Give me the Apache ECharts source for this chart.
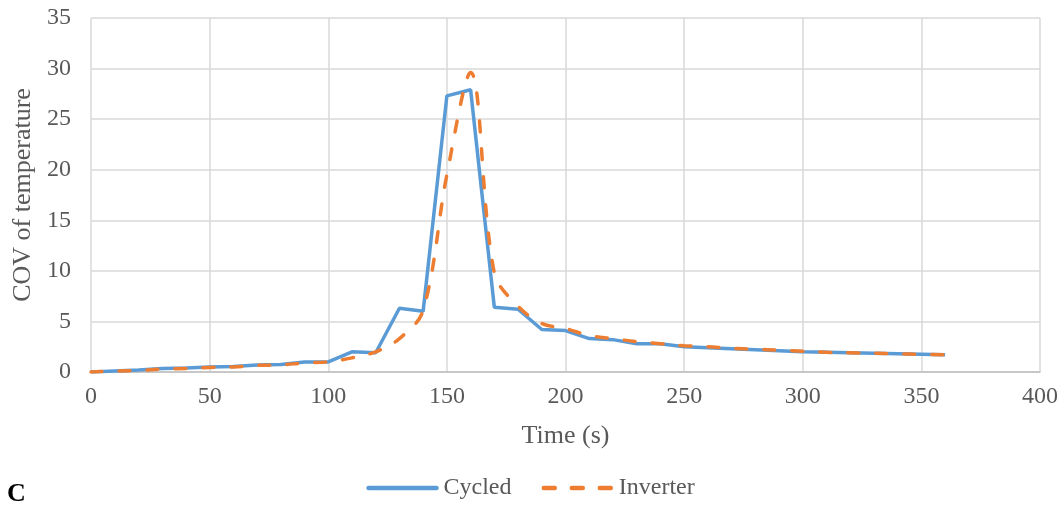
<!DOCTYPE html>
<html><head><meta charset="utf-8">
<script src="https://cdn.jsdelivr.net/npm/echarts@6/dist/echarts.min.js"></script>
<style>html,body{margin:0;padding:0;background:#fff}#c{width:1061px;height:506px}</style>
</head><body><div id="c"></div>
<script>
const times = [0,10,20,30,40,50,60,70,80,90,100,110,120,130,140,150,160,170,180,190,200,210,220,230,240,250,260,270,280,290,300,310,320,330,340,350,360];
const cycled = [0,0.1,0.2,0.35,0.4,0.5,0.55,0.7,0.75,1.0,1.0,2.0,1.9,6.3,6.0,27.3,27.9,6.4,6.2,4.2,4.1,3.3,3.2,2.8,2.8,2.5,2.4,2.3,2.2,2.1,2.0,1.95,1.9,1.85,1.8,1.75,1.7];
const inverter = [0,0.1,0.15,0.3,0.35,0.45,0.5,0.65,0.7,0.9,1.0,1.4,2.0,3.3,6.1,19.5,29.6,9.8,6.5,4.8,4.3,3.6,3.3,3.0,2.8,2.6,2.5,2.35,2.25,2.15,2.05,1.95,1.9,1.85,1.8,1.75,1.7];
const seriesNames = ['Cycled','Inverter'];
const xTitle = 'Time (s)';
const yTitle = 'COV of temperature';
const panelLabel = 'C';

const font = 'Liberation Serif';
const chart = echarts.init(document.getElementById('c'));
chart.setOption({
  animation:false,
  textStyle:{fontFamily:font},
  grid:{left:91,right:19,top:18,bottom:134},
  xAxis:{type:'value',min:0,max:400,interval:50,
    name:xTitle,nameLocation:'middle',nameGap:51,
    nameTextStyle:{fontFamily:font,fontSize:26,color:'#595959'},
    axisLabel:{fontFamily:font,fontSize:24,color:'#595959',margin:13},
    axisLine:{lineStyle:{color:'#bfbfbf',width:1.5}},axisTick:{show:false},
    splitLine:{show:true,lineStyle:{color:'#d9d9d9',width:1.5}}},
  yAxis:{type:'value',min:0,max:35,interval:5,
    name:yTitle,nameLocation:'middle',nameGap:55,
    nameTextStyle:{fontFamily:font,fontSize:26,color:'#595959'},
    axisLabel:{fontFamily:font,fontSize:24,color:'#595959',margin:20},
    axisLine:{show:false},axisTick:{show:false},
    splitLine:{lineStyle:{color:'#d9d9d9',width:1.5}}},
  legend:{bottom:1,left:'center',itemWidth:68,itemHeight:14,itemGap:30,
    itemStyle:{opacity:0},
    lineStyle:{width:4.5,cap:'round'},
    textStyle:{fontFamily:font,fontSize:24,color:'#595959',padding:[0,0,0,2]},
    data:seriesNames},
  graphic:[{type:'text',left:7,top:481,style:{text:panelLabel,font:'bold 26px "Liberation Serif"',fill:'#000'}}],
  series:[
    {name:seriesNames[0],type:'line',showSymbol:false,symbol:'none',
      data:times.map((t,i)=>[t,cycled[i]]),
      lineStyle:{color:'#5b9bd5',width:3.5},itemStyle:{color:'#5b9bd5'}},
    {name:seriesNames[1],type:'line',showSymbol:false,symbol:'none',smooth:0.35,
      data:times.map((t,i)=>[t,inverter[i]]),
      lineStyle:{color:'#ed7d31',width:3.5,type:[11,17],cap:'round'},itemStyle:{color:'#ed7d31'}}
  ]
});
</script></body></html>
